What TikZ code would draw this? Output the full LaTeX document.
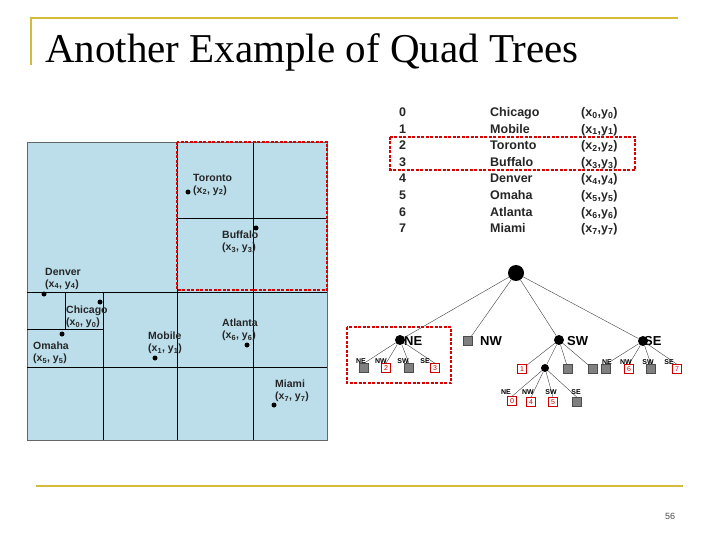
\documentclass[tikz,border=0pt]{standalone}
\usepackage{fontspec}
\setmainfont{Liberation Serif}
\setsansfont{Liberation Sans}
\begin{document}
\begin{tikzpicture}[x=1pt,y=-1pt,
 gold/.style={draw=yellow!60!brown!90!black,line width=2pt},
 grid/.style={draw=black,line width=0.6pt},
 redbox/.style={draw=red!85!black,line width=2pt,dash pattern=on 3pt off 1.5pt},
 lab/.style={font=\sffamily\bfseries\fontsize{10.5}{11.5}\selectfont,inner sep=0pt,align=left,anchor=west,text=black!85},
 tab/.style={font=\sffamily\bfseries\fontsize{12.5}{13}\selectfont,inner sep=0pt,anchor=base west,text=black!85},
 pt/.style={circle,fill=black,inner sep=0pt,minimum size=5pt},
 inner/.style={circle,fill=black,inner sep=0pt,minimum size=10pt},
 leaf/.style={rectangle,draw=black!70,fill=black!50,inner sep=0pt,minimum size=9pt},
 num/.style={rectangle,draw=red!80!black,fill=white,inner sep=0pt,minimum size=9pt,text=red!80!black,font=\sffamily\fontsize{7}{7}\selectfont},
 sl/.style={font=\sffamily\bfseries\fontsize{7}{7}\selectfont,inner sep=0pt},
 bl/.style={font=\sffamily\bfseries\fontsize{13}{13}\selectfont,inner sep=0pt,anchor=west},
 edge/.style={draw=black!75,line width=0.4pt}]
\useasboundingbox (0,0) rectangle (720,540);
\fill[white] (0,0) rectangle (720,540);
% frame
\draw[gold] (31,65) -- (31,18) -- (678,18);
\draw[gold] (36,486) -- (683,486);
\node[anchor=west,inner sep=0pt,font=\fontsize{41}{43}\selectfont] (title) at (45,52) {Another Example of Quad Trees};
\node[inner sep=0pt,font=\sffamily\fontsize{9}{10}\selectfont,text=black!70] (pg) at (670,516) {56};
% map
\fill[cyan!25!white!85!gray] (27,142) rectangle (327,440);
\draw[draw=black!60,line width=0.8pt] (27,142) rectangle (327,440);
\draw[grid] (177,142) -- (177,440);
\draw[grid] (253,142) -- (253,440);
\draw[grid] (27,292) -- (327,292);
\draw[grid] (27,367) -- (327,367);
\draw[grid] (177,218) -- (327,218);
\draw[grid] (103,292) -- (103,440);
\draw[grid] (65,292) -- (65,329);
\draw[grid] (27,329) -- (103,329);
\draw[redbox] (177,142) rectangle (327,290);
\node[pt] (p2) at (188,192) {}; \node[lab] (l2) at (193,185) {Toronto\\(x\textsubscript{2}, y\textsubscript{2})};
\node[pt] (p3) at (256,228) {}; \node[lab] (l3) at (222,242) {Buffalo\\(x\textsubscript{3}, y\textsubscript{3})};
\node[pt] (p4) at (44,294) {}; \node[lab] (l4) at (45,279) {Denver\\(x\textsubscript{4}, y\textsubscript{4})};
\node[pt] (p0) at (100,302) {}; \node[lab] (l0) at (66,317) {Chicago\\(x\textsubscript{0}, y\textsubscript{0})};
\node[pt] (p5) at (62,334) {}; \node[lab] (l5) at (33,353) {Omaha\\(x\textsubscript{5}, y\textsubscript{5})};
\node[pt] (p1) at (155,358) {}; \node[lab] (l1) at (148,343) {Mobile\\(x\textsubscript{1}, y\textsubscript{1})};
\node[pt] (p6) at (247,345) {}; \node[lab] (l6) at (222,330) {Atlanta\\(x\textsubscript{6}, y\textsubscript{6})};
\node[pt] (p7) at (274,405) {}; \node[lab] (l7) at (275,391) {Miami\\(x\textsubscript{7}, y\textsubscript{7})};
% table
\foreach \i/\n in {0/Chicago,1/Mobile,2/Toronto,3/Buffalo,4/Denver,5/Omaha,6/Atlanta,7/Miami}{
 \node[tab] (tn\i) at (399,{116.5+16.6*\i}) {\i};
 \node[tab] (tc\i) at (490,{116.5+16.6*\i}) {\n};
 \node[tab] (tx\i) at (581,{116.5+16.6*\i}) {(x\textsubscript{\i},y\textsubscript{\i})};
}
\draw[redbox] (390,137) rectangle (635,170);
% tree
\node[circle,fill=black,inner sep=0pt,minimum size=16pt] (root) at (516,273) {};
\node[inner] (ne) at (400,340) {}; \node[bl] at (404,341) {NE};
\node[leaf] (nw) at (468,341) {}; \node[bl] at (480,341) {NW};
\node[inner] (sw) at (559,340) {}; \node[bl] at (567,341) {SW};
\node[inner] (se) at (643,341) {}; \node[bl] at (644,341) {SE};
\foreach \c in {ne,nw,sw,se} \draw[edge] (root) -- (\c);
% NE children
\node[leaf] (a1) at (364,368) {}; \node[num] (a2) at (386,368) {2};
\node[leaf] (a3) at (409,368) {}; \node[num] (a4) at (435,368) {3};
\foreach \c in {a1,a2,a3,a4} \draw[edge] (ne) -- (\c.north);
\node[sl] at (361,361) {NE}; \node[sl] at (381,361) {NW}; \node[sl] at (403,361) {SW}; \node[sl] at (425,361) {SE};
% SW children
\node[num] (b1) at (522,369) {1}; \node[inner,minimum size=8pt] (b2) at (545,368) {};
\node[leaf] (b3) at (568,369) {}; \node[leaf] (b4) at (593,369) {};
\foreach \c in {b1,b2,b3,b4} \draw[edge] (sw) -- (\c);
\node[num] (c1) at (512,401) {0}; \node[num] (c2) at (531,402) {4};
\node[num] (c3) at (553,402) {5}; \node[leaf] (c4) at (577,402) {};
\foreach \c in {c1,c2,c3,c4} \draw[edge] (b2) -- (\c.north);
\node[sl] at (506,392) {NE}; \node[sl] at (528,392) {NW}; \node[sl] at (551,392) {SW}; \node[sl] at (576,392) {SE};
% SE children
\node[leaf] (d1) at (606,369) {}; \node[num] (d2) at (629,369) {6};
\node[leaf] (d3) at (651,369) {}; \node[num] (d4) at (677,369) {7};
\foreach \c in {d1,d2,d3,d4} \draw[edge] (se) -- (\c.north);
\node[sl] at (607,362) {NE}; \node[sl] at (626,362) {NW}; \node[sl] at (648,362) {SW}; \node[sl] at (669,362) {SE};
\draw[redbox] (347,327) rectangle (451,383);
\end{tikzpicture}
\end{document}
